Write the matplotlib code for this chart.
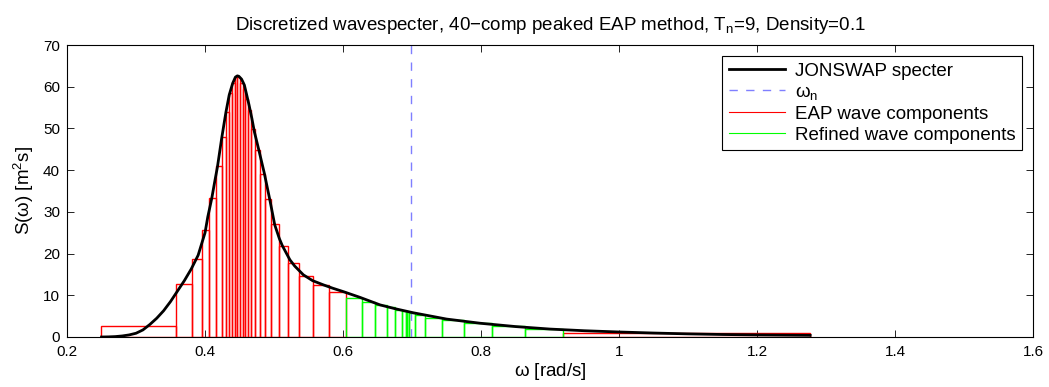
import numpy as np
import matplotlib
matplotlib.use('Agg')
import matplotlib.pyplot as plt

plt.rcParams['font.family'] = ['Liberation Sans', 'DejaVu Sans']
plt.rcParams['mathtext.fontset'] = 'custom'
plt.rcParams['mathtext.rm'] = 'Liberation Sans'
plt.rcParams['mathtext.it'] = 'Liberation Sans'

# JONSWAP curve
w_curve = [0.25, 0.26, 0.27, 0.28, 0.29, 0.30, 0.31, 0.32, 0.33, 0.34,
           0.35, 0.36, 0.37, 0.38, 0.39, 0.40, 0.404, 0.4097, 0.414, 0.418,
           0.424, 0.428, 0.4304, 0.435, 0.440, 0.444, 0.4468, 0.449, 0.453, 0.457,
           0.460, 0.4638, 0.468, 0.4715, 0.478, 0.486, 0.490, 0.494, 0.501, 0.5077,
           0.512, 0.523, 0.530, 0.5425, 0.556, 0.5715, 0.585, 0.600, 0.6246, 0.6536,
           0.675, 0.702, 0.750, 0.7986, 0.85, 0.9, 0.95, 1.0, 1.05, 1.1,
           1.15, 1.2, 1.277]
s_curve = [0.0, 0.03, 0.1, 0.25, 0.5, 0.9, 1.7, 3.0, 4.5, 6.3,
           8.5, 11.0, 13.5, 16.3, 19.6, 25.0, 28.8, 33.2, 37.2, 40.8,
           47.5, 51.6, 54.0, 58.0, 60.8, 62.3, 62.6, 62.5, 61.8, 60.4,
           58.3, 55.6, 52.3, 49.2, 44.8, 39.2, 36.0, 32.8, 26.9, 23.6,
           21.9, 18.5, 17.0, 14.9, 13.5, 12.5, 11.7, 10.9, 9.5, 7.7,
           6.8, 5.8, 4.3, 3.3, 2.5, 1.9, 1.5, 1.2, 0.95, 0.75,
           0.6, 0.5, 0.4]

# EAP wave components (bin edges and heights)
eap_edges = [0.249, 0.358, 0.381, 0.395, 0.406, 0.416, 0.424, 0.430, 0.435, 0.439,
             0.443, 0.447, 0.451, 0.455, 0.458, 0.462, 0.466, 0.473, 0.480, 0.487,
             0.496, 0.507, 0.520, 0.536, 0.556, 0.579, 0.605]
eap_heights = [2.6, 12.6, 18.6, 25.6, 33.3, 41.0, 48.0, 53.9, 58.4, 61.0,
               62.3, 62.3, 61.0, 59.5, 57.0, 54.4, 49.9, 44.8, 39.0, 33.0,
               27.0, 21.9, 17.7, 14.7, 12.5, 10.8]
tail_edges = [0.919, 1.277]
tail_heights = [0.85]

# Refined wave components
ref_edges = [0.605, 0.6275, 0.6468, 0.663, 0.676, 0.6855, 0.6913, 0.693, 0.695, 0.704,
             0.719, 0.743, 0.775, 0.816, 0.864, 0.919]
ref_heights = [9.4, 8.5, 7.7, 7.1, 6.5, 6.2, 6.0, 6.0, 5.7, 5.3,
               4.6, 4.1, 3.3, 2.6, 2.0]

w_n = 0.698

fig = plt.figure(figsize=(10.49, 3.87), dpi=100)
ax = fig.add_axes([0.0639, 0.1292, 0.9209, 0.7545])

def draw_bins(edges, heights, color):
    edges = np.array(edges)
    ax.bar(edges[:-1], heights, width=np.diff(edges), align='edge',
           fill=False, edgecolor=color, linewidth=1.0, zorder=2)

draw_bins(eap_edges, eap_heights, 'red')
draw_bins(tail_edges, tail_heights, 'red')
draw_bins(ref_edges, ref_heights, '#00ff00')

ax.plot(w_curve, s_curve, color='black', linewidth=2, zorder=3)
ax.plot([w_n, w_n], [0, 70], color='#7f7fff', linestyle=(0, (6, 6)), linewidth=1, zorder=1)

# legend handles
h1, = ax.plot([], [], color='black', linewidth=2, label='JONSWAP specter')
h2, = ax.plot([], [], color='#7f7fff', linestyle=(0, (6, 6)), linewidth=1, label=r'$\omega_\mathregular{n}$')
h3, = ax.plot([], [], color='red', linewidth=0.8, label='EAP wave components')
h4, = ax.plot([], [], color='#00ff00', linewidth=0.8, label='Refined wave components')
leg = ax.legend(handles=[h1, h2, h3, h4], loc='upper right', fontsize=13.5,
                fancybox=False, edgecolor='black', framealpha=1,
                borderaxespad=0.6, borderpad=0.35, handlelength=3.0, handletextpad=0.5,
                labelspacing=0.2)
leg.get_frame().set_linewidth(0.8)

ax.set_xlim(0.2, 1.6)
ax.set_ylim(0, 70)
ax.set_xticks([0.2, 0.4, 0.6, 0.8, 1.0, 1.2, 1.4, 1.6])
ax.set_xticklabels(['0.2', '0.4', '0.6', '0.8', '1', '1.2', '1.4', '1.6'])
ax.set_yticks(range(0, 71, 10))
ax.tick_params(direction='in', top=True, right=True, labelsize=11, length=5, width=0.6)
ax.tick_params(axis='x', pad=6)
ax.tick_params(axis='y', pad=5)
for s in ax.spines.values():
    s.set_linewidth(0.8)

ax.set_title(r'Discretized wavespecter, 40$-$comp peaked EAP method, T$_\mathregular{n}$=9, Density=0.1',
             fontsize=13.5, pad=11)
ax.set_xlabel(r'$\omega$ [rad/s]', fontsize=13.5, labelpad=1)
ax.set_ylabel(r'S($\omega$) [m$^\mathregular{2}$s]', fontsize=13.5, labelpad=5)

fig.savefig('out.png', dpi=100)
